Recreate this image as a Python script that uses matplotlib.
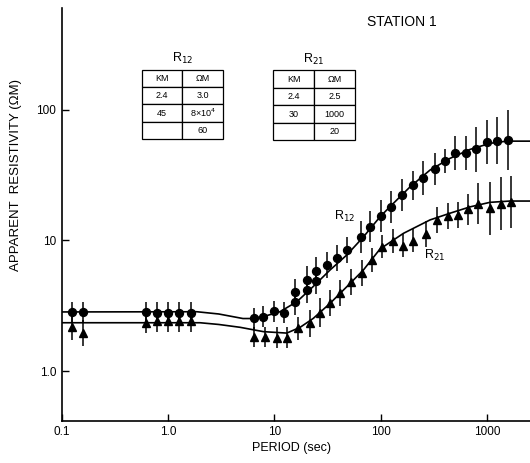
import numpy as np
import matplotlib
matplotlib.use('Agg')
import matplotlib.pyplot as plt

plt.rcParams['font.family'] = ['Liberation Sans', 'DejaVu Sans']

# R12 - кружки (период, сопротивление, полуширина ошибки в декадах)
t12 = [0.126, 0.16, 0.62, 0.79, 1.0, 1.28, 1.64,
       6.44, 7.89, 10.0, 12.2, 15.8, 15.8, 20.2, 20.2, 24.9, 24.9,
       31.5, 39.1, 48.0, 65.8, 79.4, 100, 124, 160, 203, 252, 325,
       404, 501, 632, 790, 1009, 1253, 1590]
r12 = [2.81, 2.81, 2.82, 2.78, 2.78, 2.78, 2.78,
       2.54, 2.60, 2.87, 2.80, 4.02, 3.37, 5.01, 4.16, 5.87, 4.89,
       6.46, 7.27, 8.37, 10.6, 12.7, 15.3, 18.0, 22.2, 26.4, 29.7, 35.0,
       40.3, 46.7, 46.2, 49.5, 56.6, 57.6, 58.4]
e12 = [0.08, 0.08, 0.08, 0.08, 0.08, 0.08, 0.08,
       0.08, 0.08, 0.08, 0.08, 0.1, 0.1, 0.1, 0.1, 0.1, 0.1,
       0.1, 0.1, 0.1, 0.12, 0.12, 0.12, 0.12, 0.12, 0.11, 0.13, 0.12,
       0.09, 0.13, 0.13, 0.17, 0.17, 0.18, 0.23]

# R21 - треугольники
t21 = [0.126, 0.16, 0.62, 0.79, 1.0, 1.28, 1.64,
       6.44, 8.19, 10.5, 13.1, 16.7, 21.7, 26.7, 33.2, 41.5, 52.1,
       66.4, 82.4, 104, 132, 164, 203, 269, 337, 428, 538, 668,
       830, 1069, 1349, 1675]
r21 = [2.18, 1.94, 2.34, 2.41, 2.41, 2.41, 2.41,
       1.82, 1.82, 1.80, 1.80, 2.12, 2.31, 2.80, 3.31, 3.93, 4.82,
       5.66, 7.06, 8.95, 9.86, 9.10, 9.95, 11.1, 14.3, 15.3, 15.6, 17.2,
       19.1, 17.5, 19.1, 19.7]
e21 = [0.1, 0.1, 0.08, 0.08, 0.08, 0.08, 0.08,
       0.08, 0.08, 0.08, 0.08, 0.09, 0.1, 0.11, 0.1, 0.1, 0.1,
       0.1, 0.09, 0.09, 0.09, 0.09, 0.09, 0.1, 0.1, 0.1, 0.1, 0.12,
       0.16, 0.2, 0.2, 0.2]

# модельные кривые
ct12 = [0.1, 1.87, 3.0, 5.07, 5.9, 7.8, 11.3, 16.3, 23.1, 33.4, 48.0, 68.8,
        98.6, 122, 189, 291, 449, 692, 1067, 1534, 2540]
cr12 = [2.83, 2.84, 2.73, 2.52, 2.52, 2.60, 2.84, 3.39, 4.41, 5.92, 7.71, 10.6,
        15.1, 18.0, 25.6, 34.4, 42.3, 49.5, 55.1, 57.3, 57.3]
ct21 = [0.1, 2.0, 3.0, 4.75, 7.9, 13.1, 17.5, 23.3, 33.4, 48, 68.8, 98.6,
        164, 291, 449, 692, 1067, 1644, 2540]
cr21 = [2.34, 2.34, 2.27, 2.16, 2.0, 1.95, 2.16, 2.53, 3.29, 4.41, 5.92, 8.57,
        11.3, 14.3, 16.1, 18.0, 19.5, 19.95, 19.95]

# таблицы моделей
tab12 = [['2.4', '3.0'], ['45', '8×10$^4$'], ['', '60']]
tab21 = [['2.4', '2.5'], ['30', '1000'], ['', '20']]
tab_head = ['KM', 'ΩM']

xticks = [0.1, 1, 10, 100, 1000]
xticklabels = ['0.1', '1.0', '10', '100', '1000']
yticks = [1, 10, 100]
yticklabels = ['1.0', '10', '100']


def bars(r, e):
    r = np.array(r)
    f = 10 ** np.array(e)
    return [r - r / f, r * f - r]


fig = plt.figure(figsize=(5.3, 4.63), dpi=100)
ax = fig.add_axes([0.1164, 0.0914, 0.8836, 0.891])

ax.plot(ct12, cr12, color='black', lw=1.2)
ax.plot(ct21, cr21, color='black', lw=1.2)
ax.errorbar(t12, r12, yerr=bars(r12, e12), fmt='o', color='black',
            ms=5.7, elinewidth=1.1, capsize=0)
ax.errorbar(t21, r21, yerr=bars(r21, e21), fmt='^', color='black',
            ms=5.3, elinewidth=1.1, capsize=0)

ax.set_xscale('log')
ax.set_yscale('log')
ax.set_xlim(0.1, 2540)
ax.set_ylim(0.417, 596)
ax.minorticks_off()
ax.set_xticks(xticks)
ax.set_xticklabels(xticklabels)
ax.set_yticks(yticks)
ax.set_yticklabels(yticklabels)
ax.tick_params(direction='in', length=5, width=1, labelsize=8.5, pad=4)
ax.spines['top'].set_visible(False)
ax.spines['right'].set_visible(False)
ax.spines['left'].set_linewidth(1.2)
ax.spines['bottom'].set_linewidth(1.2)

ax.set_xlabel('PERIOD (sec)', fontsize=9)
ax.xaxis.set_label_coords(0.49, -0.052)
ax.set_ylabel('APPARENT  RESISTIVITY (ΩM)', fontsize=9.5)
ax.yaxis.set_label_coords(-0.085, 0.595)

ax.text(0.726, 0.967, 'STATION 1', transform=ax.transAxes, fontsize=10,
        ha='center', va='center')
ax.text(0.605, 0.495, 'R$_{12}$', transform=ax.transAxes, fontsize=9,
        ha='center', va='center')
ax.text(0.797, 0.401, 'R$_{21}$', transform=ax.transAxes, fontsize=9,
        ha='center', va='center')

for tab, x0, y0, name in [(tab12, 0.1708, 0.682, 'R$_{12}$'),
                          (tab21, 0.452, 0.680, 'R$_{21}$')]:
    t = ax.table(cellText=tab, colLabels=tab_head, cellLoc='center',
                 bbox=[x0, y0, 0.174, 0.169])
    t.auto_set_font_size(False)
    t.set_fontsize(6.5)
    for c in t.get_celld().values():
        c.set_linewidth(0.9)
    ax.text(x0 + 0.087, y0 + 0.195, name, transform=ax.transAxes,
            fontsize=9, ha='center', va='center')

fig.savefig('out.png', dpi=100)
